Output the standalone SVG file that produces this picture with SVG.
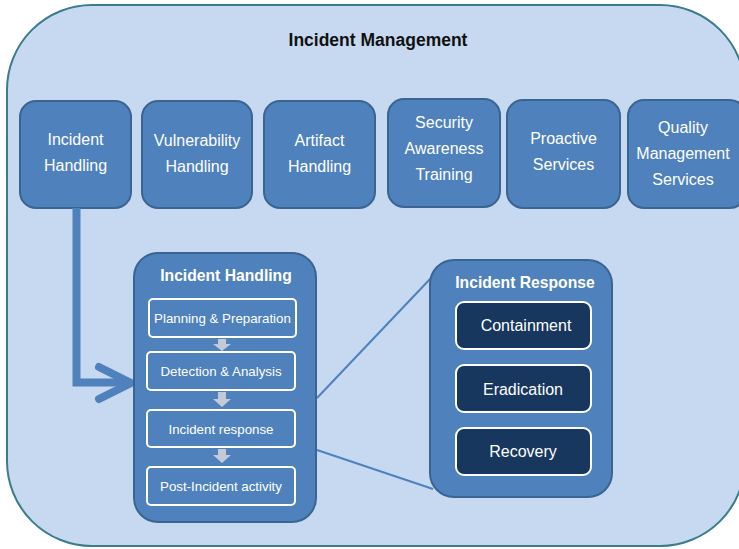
<svg xmlns="http://www.w3.org/2000/svg" width="739" height="549" viewBox="0 0 739 549">
<defs>
<style>
.box{fill:#4f81bd;stroke:#3a6491;stroke-width:2}
.lbl{font-family:"Liberation Sans",Arial,sans-serif;font-size:16px;fill:#ffffff;text-anchor:middle}
.ttl{font-family:"Liberation Sans",Arial,sans-serif;font-size:15.7px;font-weight:bold;fill:#ffffff;text-anchor:middle}
.step{fill:#4f81bd;stroke:#ffffff;stroke-width:2}
.stxt{font-family:"Liberation Sans",Arial,sans-serif;font-size:13.3px;fill:#ffffff;text-anchor:middle}
.dark{fill:#17375e;stroke:#ffffff;stroke-width:2}
.dlbl{font-family:"Liberation Sans",Arial,sans-serif;font-size:16px;fill:#ffffff;text-anchor:middle}
.gar{fill:#c3cad6}
</style>
</defs>
<rect id="bg" x="0" y="0" width="739" height="549" fill="#ffffff"/>
<g id="incident-management">
<rect x="7" y="5" width="738" height="541" rx="85" ry="85" fill="#c6d9f0" stroke="#3c7b8c" stroke-width="2"/>
<text x="378" y="46" font-family="Liberation Sans,Arial,sans-serif" font-size="17.5" font-weight="bold" fill="#111111" text-anchor="middle">Incident Management</text>
</g>
<g id="n-incident-handling">
<rect class="box" x="20" y="101" width="111" height="107" rx="16"/>
<text class="lbl" x="75.5" y="145">Incident</text>
<text class="lbl" x="75.5" y="171">Handling</text>
</g>
<g id="n-vulnerability">
<rect class="box" x="142" y="101" width="110" height="107" rx="16"/>
<text class="lbl" x="197" y="146">Vulnerability</text>
<text class="lbl" x="197" y="172">Handling</text>
</g>
<g id="n-artifact">
<rect class="box" x="264" y="101" width="111" height="107" rx="16"/>
<text class="lbl" x="319.5" y="146">Artifact</text>
<text class="lbl" x="319.5" y="172">Handling</text>
</g>
<g id="n-security">
<rect class="box" x="388" y="99" width="112" height="108" rx="16"/>
<text class="lbl" x="444" y="128">Security</text>
<text class="lbl" x="444" y="154">Awareness</text>
<text class="lbl" x="444" y="180">Training</text>
</g>
<g id="n-proactive">
<rect class="box" x="507" y="100" width="113" height="108" rx="16"/>
<text class="lbl" x="563.5" y="144">Proactive</text>
<text class="lbl" x="563.5" y="170">Services</text>
</g>
<g id="n-quality">
<rect class="box" x="628" y="100" width="118" height="108" rx="16"/>
<text class="lbl" x="683" y="133">Quality</text>
<text class="lbl" x="683" y="159">Management</text>
<text class="lbl" x="683" y="185">Services</text>
</g>
<g id="connectors">
<polyline points="76.5,208 76.5,382.5 130,382.5" fill="none" stroke="#4f81bd" stroke-width="8"/>
<polyline points="99,367 131,383 99,399" fill="none" stroke="#4f81bd" stroke-width="8" stroke-linecap="round" stroke-linejoin="miter"/>
<line x1="317" y1="398" x2="431" y2="278" stroke="#4f81bd" stroke-width="2"/>
<line x1="317" y1="450" x2="433" y2="489" stroke="#4f81bd" stroke-width="2"/>
</g>
<g id="n-incident-handling-detail">
<rect class="box" x="134" y="253" width="182" height="269" rx="24"/>
<text class="ttl" x="226" y="281">Incident Handling</text>
<rect class="step" x="149" y="299" width="147" height="38" rx="4"/>
<text class="stxt" x="222.5" y="322.5">Planning &amp; Preparation</text>
<rect class="step" x="147" y="352" width="148" height="38" rx="4"/>
<text class="stxt" x="221" y="375.5">Detection &amp; Analysis</text>
<rect class="step" x="147" y="410" width="148" height="37" rx="4"/>
<text class="stxt" x="221" y="433.5">Incident response</text>
<rect class="step" x="147" y="467" width="148" height="38" rx="4"/>
<text class="stxt" x="221" y="490.5">Post-Incident activity</text>
<path class="gar" d="M218,339 h8 v5 h5 l-9,7 l-9,-7 h5 z"/>
<path class="gar" d="M218,392 h8 v7 h5 l-9,8 l-9,-8 h5 z"/>
<path class="gar" d="M218,449 h8 v6 h5 l-9,8 l-9,-8 h5 z"/>
</g>
<g id="n-incident-response">
<rect class="box" x="430" y="260" width="182" height="237" rx="24"/>
<text class="ttl" x="525" y="288">Incident Response</text>
<rect class="dark" x="456" y="302" width="135" height="47" rx="8"/>
<text class="dlbl" x="526" y="331">Containment</text>
<rect class="dark" x="456" y="365" width="135" height="47" rx="8"/>
<text class="dlbl" x="523" y="395">Eradication</text>
<rect class="dark" x="456" y="428" width="135" height="47" rx="8"/>
<text class="dlbl" x="523" y="457">Recovery</text>
</g>
</svg>
